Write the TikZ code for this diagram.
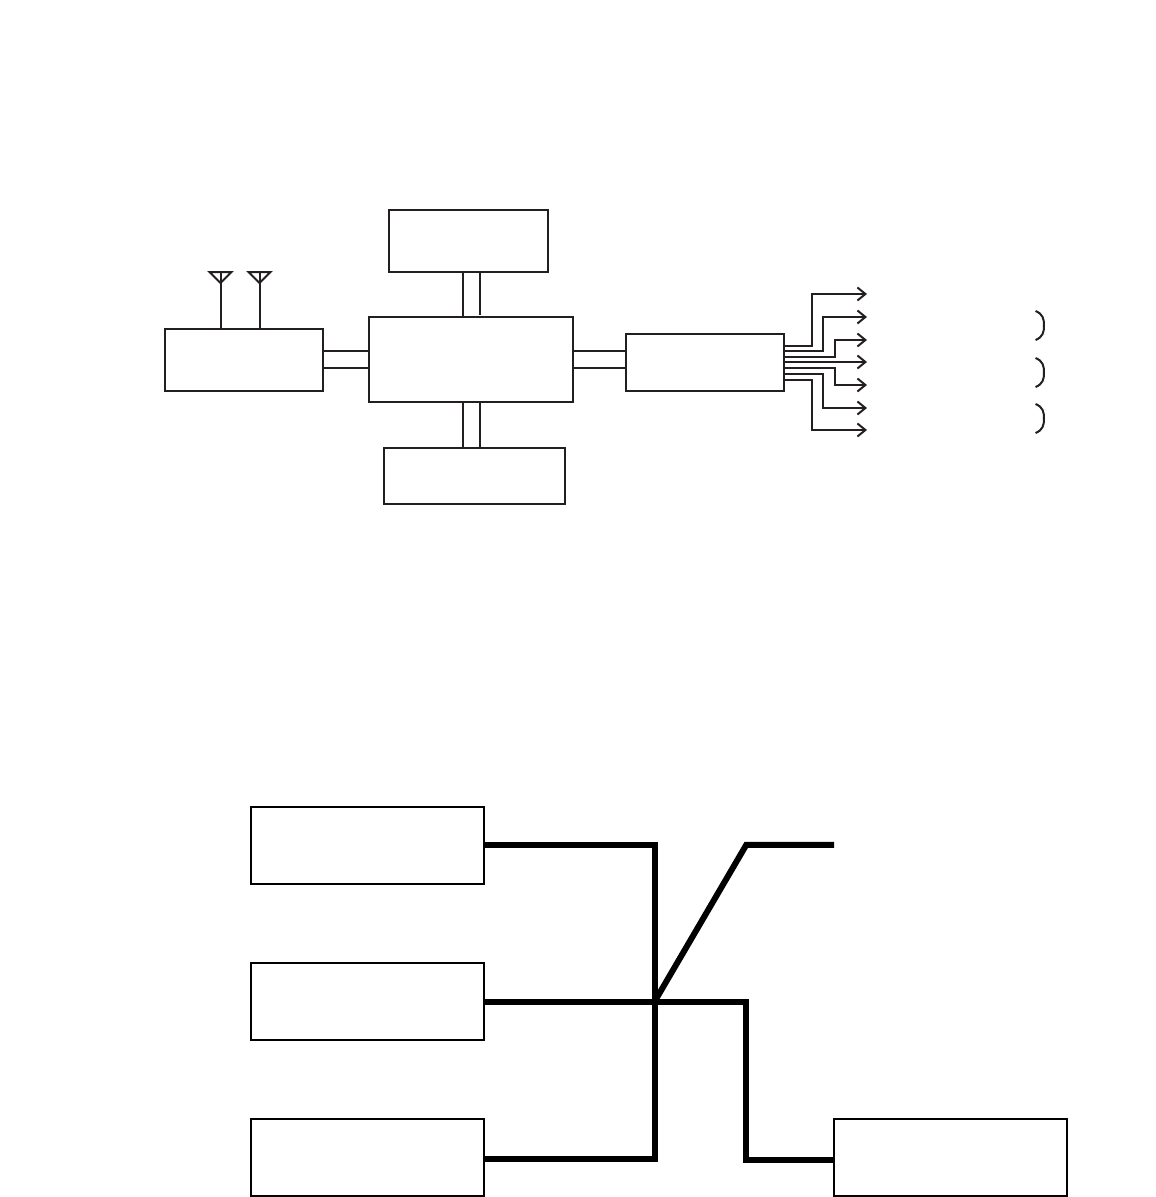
\documentclass[tikz,border=0pt]{standalone}
\usepackage{tikz}
\usetikzlibrary{positioning,arrows.meta,calc}

\begin{document}
\begin{tikzpicture}[
    x=1pt, y=-1pt,
    box/.style={draw=ink, line width=2.2pt, inner sep=0pt, outer sep=0pt},
    ctl/.style={box, minimum width=233pt, minimum height=77pt, draw=black},
    wire/.style={draw=ink, line width=2pt},
    arr/.style={wire, -{Straight Barb[length=8pt, width=13pt, line width=2pt]}},
    bus/.style={draw=black, line width=6pt, line join=miter}
]
\definecolor{ink}{HTML}{231F20}
\useasboundingbox (0,0) rectangle (1156,1197);
% upper block diagram
\node[box, minimum width=204pt, minimum height=85pt] (main) at (471,359.5) {};
\node[box, minimum width=159pt, minimum height=62pt, above=45pt of main, xshift=-2.5pt] (mem) {};
\node[box, minimum width=181pt, minimum height=56pt, below=46pt of main, xshift=3.5pt] (pwr) {};
\node[box, minimum width=158pt, minimum height=62pt, left=46pt of main, yshift=-0.5pt] (rf) {};
\node[box, minimum width=158pt, minimum height=57pt, right=53pt of main, yshift=-3pt] (drv) {};
\foreach \y in {351,368} {
    \draw[wire] (rf.east |- 0,\y) -- (main.west |- 0,\y);
    \draw[wire] (main.east |- 0,\y) -- (drv.west |- 0,\y);
}
\draw[wire] (mem.south -| 463,0) -- (main.north -| 463,0);
\draw[wire] (mem.south -| 480,0) -- (480,315);
\foreach \x in {463,480}
    \draw[wire] (main.south -| \x,0) -- (pwr.north -| \x,0);
% antennas
\foreach \n/\x in {a/220.5, b/259.5} {
    \coordinate (ant\n) at (\x,272);
    \draw[wire] (rf.north -| ant\n) -- (ant\n);
    \draw[wire] ($(ant\n)+(-11,0)$) -- ($(ant\n)+(11,0)$) -- ($(ant\n)+(0,11)$) -- cycle;
}
% outputs
\foreach \n/\y/\x/\t in {1/346/812/294, 2/351/823/317, 3/357/834.5/340, 4/362/834.5/362, 5/368/834.5/385, 6/374/823/408, 7/380/812/430} {
    \coordinate (out\n) at (867,\t);
    \draw[arr] (drv.east |- 0,\y) -| (\x,\t) -- (out\n);
}
\foreach \y in {311,358,404}
    \draw[wire] (1035.5,\y) .. controls (1043,\y+3) and (1044,\y+8) .. (1044,\y+14.5) .. controls (1044,\y+21) and (1043,\y+26) .. (1035.5,\y+29);
% lower block diagram
\node[ctl] (ctla) at (367.5,845.5) {};
\node[ctl, below=79pt of ctla] (ctlb) {};
\node[ctl, below=79pt of ctlb] (ctlc) {};
\node[ctl] (ctld) at (950.5,1157.5) {};
\coordinate (hub) at (654.5,1001.7);
\coordinate (tail) at (834,844.8);
\draw[bus] (ctla.east |- 0,844.8) -| (hub) |- (ctlc.east |- 0,1158.8);
\draw[bus] (ctlb.east |- hub) -- (hub) -- (746.3,1001.7) -- (746.3,1160) -- (ctld.west |- 0,1160);
\draw[bus] (hub) -- (746.3,844.8) -- (tail);
\end{tikzpicture}
\end{document}
